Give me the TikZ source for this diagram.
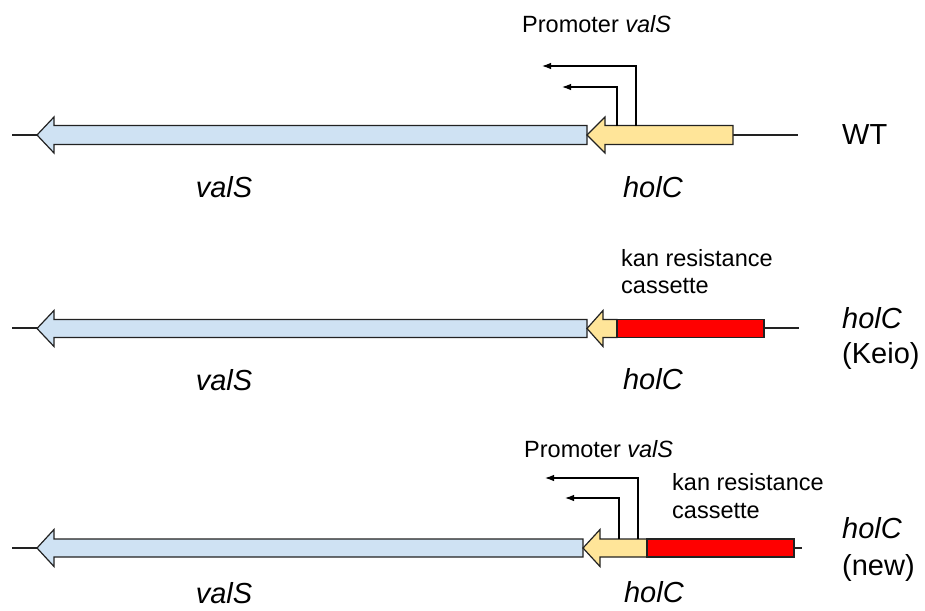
\documentclass[tikz,border=0pt]{standalone}
\usepackage{fontspec}
\setmainfont{Liberation Sans}
\usetikzlibrary{arrows.meta}
\definecolor{geneblue}{HTML}{CFE2F3}
\definecolor{geneyellow}{HTML}{FFE599}
\definecolor{genered}{HTML}{FF0000}
\definecolor{outl}{HTML}{222222}
% tip x, head back x, end x, center y, half shaft, half head
\newcommand\gArrow[7]{%
  \filldraw[genebox, fill=#7] (#1,#4) -- (#2,#4-#6) -- (#2,#4-#5) -- (#3,#4-#5)
    -- (#3,#4+#5) -- (#2,#4+#5) -- (#2,#4+#6) -- cycle;}
\begin{document}
\begin{tikzpicture}[x=1pt,y=-1pt,
  genebox/.style={draw=outl, line width=1.2pt, line join=miter},
  dna/.style={draw=outl, line width=1.2pt},
  prom/.style={draw=black, line width=1.1pt, -{Latex[length=9pt,width=6.5pt]}},
  biglab/.style={font=\fontsize{29}{34}\selectfont, inner sep=0pt},
  smalllab/.style={font=\fontsize{23.5}{28}\selectfont, inner sep=0pt}]
\useasboundingbox (0,0) rectangle (925,610);

% ---------- Row 1 : WT ----------
\coordinate (d1a) at (12,135);
\coordinate (d1b) at (798,135);
\draw[dna] (d1a) -- (d1b);
\gArrow{37}{54}{587}{135}{9.5}{18}{geneblue}
\gArrow{587}{605}{733}{135}{9.5}{18}{geneyellow}
\coordinate (p1o) at (636,126);
\coordinate (p1oe) at (542,66);
\coordinate (p1i) at (617,126);
\coordinate (p1ie) at (562,87);
\draw[prom] (p1o) |- (p1oe);
\draw[prom] (p1i) |- (p1ie);
\node[smalllab, anchor=base west] (prom1) at (522,33) {Promoter \textit{valS}};
\node[biglab, anchor=base west] (wt) at (842,144) {WT};
\node[biglab, anchor=base] (vals1) at (224,197) {\textit{valS}};
\node[biglab, anchor=base] (holc1) at (653,197) {\textit{holC}};

% ---------- Row 2 : holC (Keio) ----------
\coordinate (d2a) at (12,328);
\coordinate (d2b) at (799,328);
\draw[dna] (d2a) -- (d2b);
\gArrow{37}{54}{587}{328.5}{9}{18}{geneblue}
\gArrow{587}{603}{617}{328.5}{9}{18}{geneyellow}
\filldraw[genebox, fill=genered] (617,319.5) rectangle (764,337.5);
\node[smalllab, anchor=base west] (kan2a) at (621,266) {kan resistance};
\node[smalllab, anchor=base west] (kan2b) at (621,293) {cassette};
\node[biglab, anchor=base west] (keio1) at (842,328) {\textit{holC}};
\node[biglab, anchor=base west] (keio2) at (842,363) {(Keio)};
\node[biglab, anchor=base] (vals2) at (224,390) {\textit{valS}};
\node[biglab, anchor=base] (holc2) at (653,389) {\textit{holC}};

% ---------- Row 3 : holC (new) ----------
\coordinate (d3a) at (12,548);
\coordinate (d3b) at (802,548);
\draw[dna] (d3a) -- (d3b);
\gArrow{37}{54}{583}{548}{9}{18.5}{geneblue}
\gArrow{583}{600}{647}{548}{9}{18.5}{geneyellow}
\filldraw[genebox, fill=genered] (647,539) rectangle (794,557);
\coordinate (p3o) at (638,539);
\coordinate (p3oe) at (545,478);
\coordinate (p3i) at (619,539);
\coordinate (p3ie) at (565,498);
\draw[prom] (p3o) |- (p3oe);
\draw[prom] (p3i) |- (p3ie);
\node[smalllab, anchor=base west] (prom3) at (524,457) {Promoter \textit{valS}};
\node[smalllab, anchor=base west] (kan3a) at (672,490) {kan resistance};
\node[smalllab, anchor=base west] (kan3b) at (672,518) {cassette};
\node[biglab, anchor=base west] (new1) at (842,538) {\textit{holC}};
\node[biglab, anchor=base west] (new2) at (842,575) {(new)};
\node[biglab, anchor=base] (vals3) at (224,603) {\textit{valS}};
\node[biglab, anchor=base] (holc3) at (654,602) {\textit{holC}};
\end{tikzpicture}
\end{document}
